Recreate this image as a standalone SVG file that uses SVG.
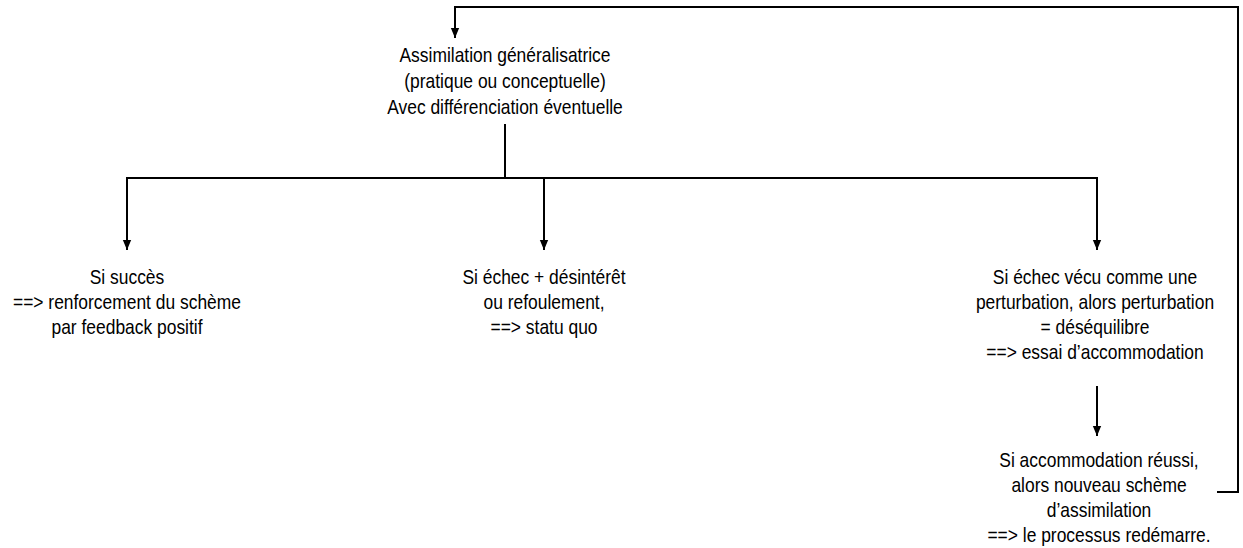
<svg xmlns="http://www.w3.org/2000/svg" width="1243" height="548" viewBox="0 0 1243 548">
<defs>
<marker id="ah" markerWidth="10" markerHeight="12" refX="12" refY="5" orient="auto" markerUnits="userSpaceOnUse" viewBox="0 0 12 10">
<path d="M0,0 L12,5 L0,10 Z" fill="#000"/>
</marker>
</defs>
<style>
text{font-family:"Liberation Sans",Arial,sans-serif;font-size:20.5px;fill:#000;text-anchor:middle}
.c{fill:none;stroke:#000;stroke-width:2}
</style>
<rect width="1243" height="548" fill="#fff"/>
<g id="connectors">
<polyline class="c" points="1217,492 1238,492 1238,7 455,7 455,38" marker-end="url(#ah)"/>
<line class="c" x1="505" y1="124" x2="505" y2="178"/>
<line class="c" x1="126" y1="178" x2="1098" y2="178"/>
<line class="c" x1="127" y1="178" x2="127" y2="250" marker-end="url(#ah)"/>
<line class="c" x1="544" y1="178" x2="544" y2="250" marker-end="url(#ah)"/>
<line class="c" x1="1097" y1="178" x2="1097" y2="250" marker-end="url(#ah)"/>
<line class="c" x1="1097" y1="386" x2="1097" y2="436" marker-end="url(#ah)"/>
</g>
<g id="n-assimilation" transform="translate(505,0) scale(0.85,1)">
<text x="0" y="62">Assimilation généralisatrice</text>
<text x="0" y="88">(pratique ou conceptuelle)</text>
<text x="0" y="114">Avec différenciation éventuelle</text>
</g>
<g id="n-succes" transform="translate(127,0) scale(0.85,1)">
<text x="0" y="284">Si succès</text>
<text x="0" y="309">==&gt; renforcement du schème</text>
<text x="0" y="334">par feedback positif</text>
</g>
<g id="n-statu-quo" transform="translate(544,0) scale(0.85,1)">
<text x="0" y="284">Si échec + désintérêt</text>
<text x="0" y="309">ou refoulement,</text>
<text x="0" y="334">==&gt; statu quo</text>
</g>
<g id="n-perturbation" transform="translate(1095,0) scale(0.85,1)">
<text x="0" y="284">Si échec vécu comme une</text>
<text x="0" y="309">perturbation, alors perturbation</text>
<text x="0" y="334">= déséquilibre</text>
<text x="0" y="359">==&gt; essai d’accommodation</text>
</g>
<g id="n-nouveau-scheme" transform="translate(1099,0) scale(0.85,1)">
<text x="0" y="467">Si accommodation réussi,</text>
<text x="0" y="492">alors nouveau schème</text>
<text x="0" y="517">d’assimilation</text>
<text x="0" y="542">==&gt; le processus redémarre.</text>
</g>
</svg>
